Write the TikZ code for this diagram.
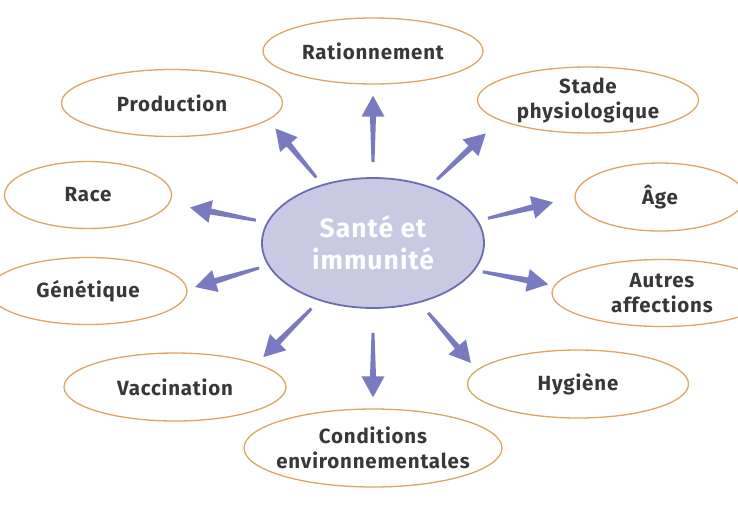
\documentclass[tikz,border=0pt]{standalone}
\usepackage{fontspec}
\setmainfont{Fira Sans}[LetterSpace=4]
\usetikzlibrary{shapes.geometric,calc}
\definecolor{lcring}{HTML}{DFA463}
\definecolor{lcarrow}{HTML}{7A7AC0}
\definecolor{lchub}{HTML}{C9C9E3}
\definecolor{lchubline}{HTML}{6C6CB6}
\definecolor{lctext}{HTML}{383838}

\begin{document}
\begin{tikzpicture}[%
    x=1pt, y=-1pt,              % One unit per pixel, counted top-down
    every node/.style={inner sep=0pt}]
% -------------------------------------------------
% Box styles
\tikzset{
  base/.style={ellipse, draw=lcring, line width=1.3pt},
  leaf/.style={base, minimum width=221pt, minimum height=67pt},
  lbl/.style={font={\fontsize{20.5}{25}\selectfont\bfseries}, text=lctext, align=center},
  hub/.style={ellipse, draw=lchubline, fill=lchub, line width=1.8pt,
    minimum width=222pt, minimum height=130pt, align=center, text=white,
    font={\fontsize{26.5}{32}\selectfont\bfseries}},
  % fat tapered arrow: #1 gap at the hub, #2 gap at the leaf
  spoke/.style 2 args={to path={
    ($(\tikztostart)!#1!(\tikztotarget)$) coordinate (s0)
    ($(\tikztotarget)!#2!(\tikztostart)$) coordinate (s1)
    ($(s1)!21pt!(s0)$) coordinate (sh)
    ($(s0)!1.5pt!90:(s1)$) -- ($(sh)!3pt!90:(s1)$) -- ($(sh)!11.5pt!90:(s1)$)
    -- (s1) -- ($(sh)!11.5pt!-90:(s1)$) -- ($(sh)!3pt!-90:(s1)$)
    -- ($(s0)!1.5pt!-90:(s1)$) -- cycle}}
}
\useasboundingbox (0,0) rectangle (738,507);
% -------------------------------------------------
% The hub in the middle
\node [hub] (hub) at (373,243) {Santé et\\immunité};

% Leaves, clockwise from the top
\node [leaf, minimum width=220pt, minimum height=66pt,
  label={[lbl]center:Rationnement}] (rat) at (373,51) {};
\node [leaf, minimum height=66pt,
  label={[lbl]center:Stade\\physiologique}] (stade) at (588,100) {};
\node [leaf, minimum width=170pt, minimum height=68pt,
  label={[lbl]center:Âge}] (age) at (660,197) {};
\node [leaf, minimum width=220pt,
  label={[lbl]center:Autres\\affections}] (aut) at (662,293) {};
\node [leaf, minimum height=68pt,
  label={[lbl]center:Hygiène}] (hyg) at (578,384) {};
\node [leaf, minimum width=258pt, minimum height=78pt,
  label={[lbl]center:Conditions\\environnementales}] (cond) at (373,448) {};
\node [leaf, minimum width=222pt, minimum height=68pt,
  label={[lbl]center:Vaccination}] (vac) at (175,387) {};
\node [leaf, minimum width=198pt,
  label={[lbl]center:Génétique}] (gen) at (88,291) {};
\node [leaf, minimum width=167pt,
  label={[lbl]center:Race}] (race) at (88,195) {};
\node [leaf,
  label={[lbl]center:Production}] (prod) at (172,103) {};

% -------------------------------------------------
% Spokes from the hub out to every leaf
\fill [lcarrow] (hub.90)  to [spoke={15pt}{11pt}] (rat.-90);
\fill [lcarrow] (hub.45)  to [spoke={10pt}{19pt}] (stade.193);
\fill [lcarrow] (hub.12)  to [spoke={10pt}{22pt}] (age.180);
\fill [lcarrow] (hub.-15) to [spoke={8pt}{6pt}]   (aut.176);
\fill [lcarrow] (hub.-52) to [spoke={13pt}{9pt}]  (hyg.172);
\fill [lcarrow] (hub.-90) to [spoke={24pt}{11pt}] (cond.90);
\fill [lcarrow] (hub.227) to [spoke={11pt}{9pt}]  (vac.16);
\fill [lcarrow] (hub.192) to [spoke={9pt}{8pt}]   (gen.1);
\fill [lcarrow] (hub.169) to [spoke={11pt}{21pt}] (race.-6);
\fill [lcarrow] (hub.131) to [spoke={9pt}{11pt}]  (prod.-10);
% -------------------------------------------------
\end{tikzpicture}
\end{document}
